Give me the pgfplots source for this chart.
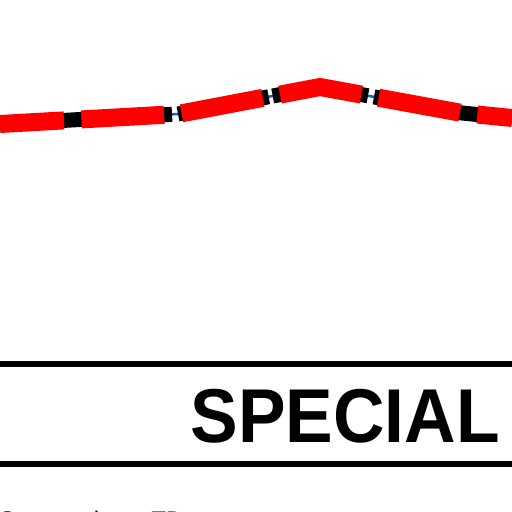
\documentclass[border=0pt]{standalone}
\usepackage{pgfplots}
\pgfplotsset{compat=1.18}
\usepackage{fontspec}
\setmainfont{Liberation Sans}
\definecolor{lineblue}{RGB}{30,95,190}
\definecolor{linered}{RGB}{255,0,0}
\begin{document}
\begin{tikzpicture}
\begin{axis}[
  width=512bp, height=512bp, scale only axis,
  xmin=0, xmax=512, ymin=0, ymax=512,
  y dir=reverse,
  hide axis,
]
\path[draw=none] (axis cs:0,0) rectangle (axis cs:512,512);
\addplot[overlay, lineblue, line width=2.5bp] coordinates {(0,124) (178,114) (320,87) (462,113) (512,118)};
\addplot[overlay, black, line width=15bp,
  dash pattern=on 172.3bp off 6bp on 92.3bp off 4.1bp on 96.9bp off 6.1bp on 220bp off 1bp]
  coordinates {(0,124) (178,114) (320,87) (462,113) (512,118)};
\addplot[overlay, linered, line width=18bp, dash pattern=on 82.75bp off 17.5bp, dash phase=18.65bp]
  coordinates {(0,124) (178,114) (320,87) (462,113) (512,118)};
\draw[overlay, line width=6bp] (axis cs:-10,364) -- (axis cs:522,364);
\draw[overlay, line width=6bp] (axis cs:-10,463.7) -- (axis cs:522,463.7);
\node[overlay, anchor=base west, inner sep=0pt] at (axis cs:190.5,442.3)
  {\scalebox{0.935}[1]{\fontsize{76.3bp}{80bp}\selectfont\bfseries SPECIAL}};
\node[overlay, anchor=base west, inner sep=0pt] at (axis cs:-1,528.5)
  {\fontsize{24bp}{28bp}\selectfont Seasonal avg TD};
\end{axis}
\end{tikzpicture}
\end{document}
